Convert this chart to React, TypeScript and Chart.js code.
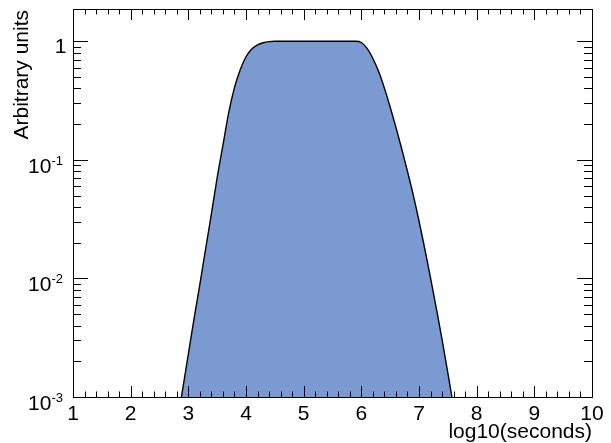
import React, { useEffect, useRef } from 'react';
import { Chart, registerables } from 'chart.js';

Chart.register(...registerables);

// ---- data ----
const xValues = [
  2.8, 2.9, 3.0, 3.1, 3.2, 3.3, 3.4, 3.5, 3.6, 3.7, 3.8, 3.9,
  4.0, 4.1, 4.2, 4.3, 4.4, 4.5, 4.6, 4.7, 4.8, 4.9,
  5.0, 5.1, 5.2, 5.3, 5.4, 5.5, 5.6, 5.7, 5.8, 5.9,
  6.0, 6.1, 6.2, 6.3, 6.4, 6.5, 6.6, 6.7, 6.8, 6.9,
  7.0, 7.1, 7.2, 7.3, 7.4, 7.5, 7.6, 7.7,
];
const yValues = [
  0.00058, 0.00115, 0.0023, 0.0046, 0.0089, 0.0178, 0.035, 0.071, 0.133, 0.25, 0.407, 0.575,
  0.741, 0.861, 0.933, 0.973, 0.993, 1.0, 1.0, 1.0, 1.0, 1.0,
  1.0, 1.0, 1.0, 1.0, 1.0, 1.0, 1.0, 1.0, 1.0, 1.0,
  0.977, 0.871, 0.716, 0.556, 0.403, 0.279, 0.188, 0.124, 0.080, 0.0507,
  0.0305, 0.0178, 0.0101, 0.0056, 0.00305, 0.0016, 0.00082, 0.00042,
];
const xTickValues = [1, 2, 3, 4, 5, 6, 7, 8, 9, 10];
const xTickLabels = ['1', '2', '3', '4', '5', '6', '7', '8', '9', '10'];
const yDecadeExponents = [0, -1, -2, -3];
const yAxisTitle = 'Arbitrary units';
const xAxisTitle = 'log10(seconds)';
const X_MIN = 1;
const X_MAX = 10;
const Y_MIN = 0.001;
const Y_MAX = 1.873;

const FONT = '"Liberation Sans", Arial, Helvetica, sans-serif';

const rootAxesPlugin = {
  id: 'rootAxes',
  afterDatasetsDraw(chart: any) {
    const { ctx, chartArea } = chart;
    const xs = chart.scales.x;
    const ys = chart.scales.y;
    const { left, right, top, bottom } = chartArea;
    ctx.save();
    ctx.strokeStyle = '#000';
    ctx.lineWidth = 1;

    // frame
    ctx.strokeRect(Math.round(left) + 0.5, Math.round(top) + 0.5, Math.round(right - left), Math.round(bottom - top));

    const line = (x1: number, y1: number, x2: number, y2: number) => {
      ctx.beginPath();
      ctx.moveTo(x1, y1);
      ctx.lineTo(x2, y2);
      ctx.stroke();
    };

    // x ticks (major + minor every 0.2), bottom and top, pointing inward
    for (let i = 0; i <= (X_MAX - X_MIN) * 5; i++) {
      const v = X_MIN + i * 0.2;
      const px = Math.round(xs.getPixelForValue(v)) + 0.5;
      const major = i % 5 === 0;
      const len = major ? 11 : 5.5;
      line(px, bottom, px, bottom - len);
      line(px, top, px, top + len);
    }

    // y ticks (decades + 2..9), left and right
    for (let d = -3; d <= 0; d++) {
      for (let k = 1; k <= 9; k++) {
        const v = k * Math.pow(10, d);
        if (v < Y_MIN || v > Y_MAX) continue;
        const py = Math.round(ys.getPixelForValue(v)) + 0.5;
        const len = k === 1 ? 15 : 8;
        line(left, py, left + len, py);
        line(right, py, right - len, py);
      }
    }

    ctx.fillStyle = '#000';
    // x tick labels
    ctx.font = `21px ${FONT}`;
    ctx.textAlign = 'center';
    ctx.textBaseline = 'alphabetic';
    xTickValues.forEach((v, i) => {
      ctx.fillText(xTickLabels[i], xs.getPixelForValue(v), bottom + 22.5);
    });

    // y tick labels
    const labelRight = left - 11;
    yDecadeExponents.forEach((e) => {
      const py = ys.getPixelForValue(Math.pow(10, e));
      if (e === 0) {
        ctx.font = `21px ${FONT}`;
        ctx.textAlign = 'right';
        ctx.fillText('1', left - 6.5, py + 12);
      } else {
        const sup = String(e);
        ctx.font = `13px ${FONT}`;
        const supW = ctx.measureText(sup).width;
        ctx.textAlign = 'left';
        ctx.fillText(sup, labelRight - supW + 1, py + 5);
        ctx.font = `21px ${FONT}`;
        ctx.textAlign = 'right';
        ctx.fillText('10', labelRight - supW + 1, py + 13);
      }
    });

    // axis titles
    ctx.font = `21px ${FONT}`;
    ctx.textAlign = 'right';
    ctx.fillText(xAxisTitle, right, bottom + 41);

    ctx.save();
    ctx.translate(28, top + 1);
    ctx.rotate(-Math.PI / 2);
    ctx.textAlign = 'right';
    ctx.fillText(yAxisTitle, 0, 0);
    ctx.restore();

    ctx.restore();
  },
};

export default function App() {
  const canvasRef = useRef<HTMLCanvasElement | null>(null);

  useEffect(() => {
    document.body.style.margin = '0';
    const canvas = canvasRef.current;
    if (!canvas) return;
    const points = xValues.map((x, i) => ({ x, y: yValues[i] }));
    const chart = new Chart(canvas, {
      type: 'line',
      data: {
        datasets: [
          {
            data: points,
            borderColor: '#000000',
            borderWidth: 1.4,
            backgroundColor: 'rgb(122,154,209)',
            fill: 'start',
            pointRadius: 0,
            cubicInterpolationMode: 'monotone',
            clip: 0,
          } as any,
        ],
      },
      options: {
        responsive: false,
        animation: false,
        devicePixelRatio: 1,
        layout: { padding: { left: 73, right: 19, top: 9, bottom: 46 } },
        plugins: { legend: { display: false }, tooltip: { enabled: false } },
        scales: {
          x: { type: 'linear', min: X_MIN, max: X_MAX, display: false },
          y: { type: 'logarithmic', min: Y_MIN, max: Y_MAX, display: false },
        },
      },
      plugins: [rootAxesPlugin],
    });
    return () => chart.destroy();
  }, []);

  return (
    <div style={{ position: 'absolute', left: 0, top: 0, width: 611, height: 443, background: '#fff' }}>
      <canvas ref={canvasRef} width={611} height={443} />
    </div>
  );
}
